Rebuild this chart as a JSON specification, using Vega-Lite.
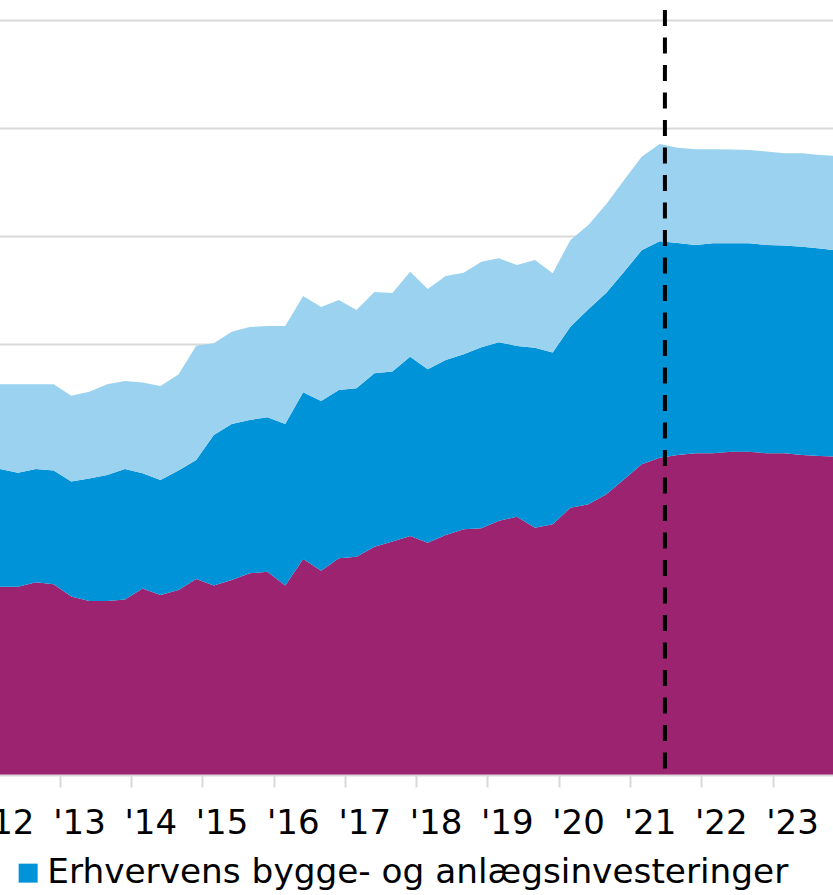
{
  "$schema": "https://vega.github.io/schema/vega-lite/v6.json",
  "width": 833,
  "height": 775,
  "autosize": {"type": "none"},
  "padding": {"left": 0, "top": 0, "right": 0, "bottom": 120},
  "background": "white",
  "config": {"view": {"stroke": null}, "font": "DejaVu Sans"},
  "layer": [
    {
      "data": {"values": [
        {"d": "2012-03-01", "Bolig": 87.3, "Erhverv": 54.5, "Offentlig": 39.3},
        {"d": "2012-06-01", "Bolig": 87.3, "Erhverv": 52.8, "Offentlig": 41.0},
        {"d": "2012-09-01", "Bolig": 89.3, "Erhverv": 52.5, "Offentlig": 39.3},
        {"d": "2012-12-01", "Bolig": 88.4, "Erhverv": 52.7, "Offentlig": 40.0},
        {"d": "2013-03-01", "Bolig": 82.7, "Erhverv": 53.3, "Offentlig": 39.8},
        {"d": "2013-06-01", "Bolig": 80.7, "Erhverv": 56.8, "Offentlig": 40.2},
        {"d": "2013-09-01", "Bolig": 80.7, "Erhverv": 58.4, "Offentlig": 42.0},
        {"d": "2013-12-01", "Bolig": 81.4, "Erhverv": 60.4, "Offentlig": 40.8},
        {"d": "2014-03-01", "Bolig": 86.5, "Erhverv": 53.4, "Offentlig": 42.0},
        {"d": "2014-06-01", "Bolig": 83.4, "Erhverv": 53.4, "Offentlig": 43.5},
        {"d": "2014-09-01", "Bolig": 85.8, "Erhverv": 55.3, "Offentlig": 44.6},
        {"d": "2014-12-01", "Bolig": 90.9, "Erhverv": 55.1, "Offentlig": 53.0},
        {"d": "2015-03-01", "Bolig": 87.8, "Erhverv": 69.8, "Offentlig": 42.5},
        {"d": "2015-06-01", "Bolig": 90.4, "Erhverv": 72.3, "Offentlig": 42.8},
        {"d": "2015-09-01", "Bolig": 93.5, "Erhverv": 71.1, "Offentlig": 43.1},
        {"d": "2015-12-01", "Bolig": 94.2, "Erhverv": 71.6, "Offentlig": 42.3},
        {"d": "2016-03-01", "Bolig": 87.8, "Erhverv": 74.9, "Offentlig": 45.4},
        {"d": "2016-06-01", "Bolig": 100.1, "Erhverv": 77.3, "Offentlig": 44.6},
        {"d": "2016-09-01", "Bolig": 94.7, "Erhverv": 78.7, "Offentlig": 43.5},
        {"d": "2016-12-01", "Bolig": 100.5, "Erhverv": 78.0, "Offentlig": 41.7},
        {"d": "2017-03-01", "Bolig": 101.2, "Erhverv": 78.1, "Offentlig": 36.3},
        {"d": "2017-06-01", "Bolig": 105.8, "Erhverv": 80.4, "Offentlig": 37.7},
        {"d": "2017-09-01", "Bolig": 108.2, "Erhverv": 78.8, "Offentlig": 36.4},
        {"d": "2017-12-01", "Bolig": 110.8, "Erhverv": 83.1, "Offentlig": 39.4},
        {"d": "2018-03-01", "Bolig": 107.7, "Erhverv": 80.4, "Offentlig": 37.2},
        {"d": "2018-06-01", "Bolig": 111.3, "Erhverv": 81.1, "Offentlig": 38.9},
        {"d": "2018-09-01", "Bolig": 113.9, "Erhverv": 81.1, "Offentlig": 37.8},
        {"d": "2018-12-01", "Bolig": 114.4, "Erhverv": 83.9, "Offentlig": 39.6},
        {"d": "2019-03-01", "Bolig": 117.9, "Erhverv": 82.7, "Offentlig": 38.9},
        {"d": "2019-06-01", "Bolig": 119.7, "Erhverv": 79.2, "Offentlig": 37.5},
        {"d": "2019-09-01", "Bolig": 114.6, "Erhverv": 83.5, "Offentlig": 40.6},
        {"d": "2019-12-01", "Bolig": 116.2, "Erhverv": 79.6, "Offentlig": 36.8},
        {"d": "2020-03-01", "Bolig": 123.9, "Erhverv": 83.9, "Offentlig": 40.2},
        {"d": "2020-06-01", "Bolig": 125.5, "Erhverv": 90.4, "Offentlig": 39.1},
        {"d": "2020-09-01", "Bolig": 130.1, "Erhverv": 93.5, "Offentlig": 41.1},
        {"d": "2020-12-01", "Bolig": 137.1, "Erhverv": 96.2, "Offentlig": 42.5},
        {"d": "2021-03-01", "Bolig": 144.0, "Erhverv": 99.2, "Offentlig": 43.4},
        {"d": "2021-06-01", "Bolig": 147.1, "Erhverv": 100.3, "Offentlig": 45.1},
        {"d": "2021-09-01", "Bolig": 148.3, "Erhverv": 98.3, "Offentlig": 44.2},
        {"d": "2021-12-01", "Bolig": 149.1, "Erhverv": 96.6, "Offentlig": 44.4},
        {"d": "2022-03-01", "Bolig": 149.1, "Erhverv": 97.4, "Offentlig": 43.6},
        {"d": "2022-06-01", "Bolig": 149.9, "Erhverv": 96.6, "Offentlig": 43.5},
        {"d": "2022-09-01", "Bolig": 149.9, "Erhverv": 96.6, "Offentlig": 43.2},
        {"d": "2022-12-01", "Bolig": 149.1, "Erhverv": 96.6, "Offentlig": 43.3},
        {"d": "2023-03-01", "Bolig": 149.1, "Erhverv": 96.3, "Offentlig": 42.8},
        {"d": "2023-06-01", "Bolig": 148.3, "Erhverv": 96.6, "Offentlig": 43.3},
        {"d": "2023-09-01", "Bolig": 147.9, "Erhverv": 96.2, "Offentlig": 43.3},
        {"d": "2023-12-01", "Bolig": 147.6, "Erhverv": 95.5, "Offentlig": 43.8}
      ]},
      "transform": [{"fold": ["Bolig", "Erhverv", "Offentlig"], "as": ["s", "v"]}],
      "mark": {"type": "area", "clip": true, "interpolate": "linear"},
      "encoding": {
        "x": {
          "field": "d",
          "type": "temporal",
          "scale": {
            "type": "utc",
            "domain": [
              {"year": 2012, "month": 1, "date": 1, "utc": true},
              {"year": 2023, "month": 11, "date": 6, "utc": true}
            ],
            "range": [-11.71, 833]
          },
          "axis": {
            "values": [
              {"year": 2012, "month": 1, "date": 1, "utc": true},
              {"year": 2013, "month": 1, "date": 1, "utc": true},
              {"year": 2014, "month": 1, "date": 1, "utc": true},
              {"year": 2015, "month": 1, "date": 1, "utc": true},
              {"year": 2016, "month": 1, "date": 1, "utc": true},
              {"year": 2017, "month": 1, "date": 1, "utc": true},
              {"year": 2018, "month": 1, "date": 1, "utc": true},
              {"year": 2019, "month": 1, "date": 1, "utc": true},
              {"year": 2020, "month": 1, "date": 1, "utc": true},
              {"year": 2021, "month": 1, "date": 1, "utc": true},
              {"year": 2022, "month": 1, "date": 1, "utc": true},
              {"year": 2023, "month": 1, "date": 1, "utc": true}
            ],
            "labelExpr": "\"'\" + utcFormat(datum.value, '%y')",
            "title": null,
            "grid": false,
            "zindex": 1,
            "labelAlign": "left",
            "labelOffset": -7,
            "labelBaseline": "alphabetic",
            "labelPadding": 46,
            "labelFont": "DejaVu Sans",
            "labelFontSize": 34,
            "labelColor": "#000000",
            "labelOverlap": false,
            "labelBound": false,
            "labelFlush": false,
            "tickColor": "#d9d9d9",
            "tickWidth": 2,
            "tickSize": 12,
            "domainColor": "#d9d9d9",
            "domainWidth": 2
          }
        },
        "y": {
          "field": "v",
          "type": "quantitative",
          "stack": "zero",
          "scale": {"domain": [0, 359.26], "nice": false},
          "axis": {
            "values": [50, 100, 150, 200, 250, 300, 350],
            "grid": true,
            "gridColor": "#d9d9d9",
            "gridWidth": 2,
            "labels": false,
            "ticks": false,
            "domain": false,
            "title": null
          }
        },
        "color": {
          "field": "s",
          "type": "nominal",
          "scale": {
            "domain": ["Bolig", "Erhverv", "Offentlig"],
            "range": ["#9B2370", "#0093D7", "#9AD2EF"]
          },
          "legend": {
            "values": ["Erhverv"],
            "orient": "none",
            "legendX": 11,
            "legendY": 856,
            "title": null,
            "padding": 0,
            "symbolType": "square",
            "symbolSize": 361,
            "symbolStrokeWidth": 0,
            "symbolOpacity": 1,
            "labelFont": "DejaVu Sans",
            "labelFontSize": 34.3,
            "labelColor": "#000000",
            "labelLimit": 1000,
            "labelOffset": 2,
            "labelExpr": "datum.label == 'Erhverv' ? 'Erhvervens bygge- og anlægsinvesteringer' : datum.label"
          }
        },
        "order": {"field": "s", "sort": "ascending"}
      }
    },
    {
      "data": {"values": [{"d": "2021-06-28"}]},
      "mark": {"type": "rule", "color": "#000000", "strokeWidth": 4, "strokeDash": [16, 11.5], "strokeDashOffset": 17.5},
      "encoding": {"x": {"field": "d", "type": "temporal"}}
    }
  ]
}
